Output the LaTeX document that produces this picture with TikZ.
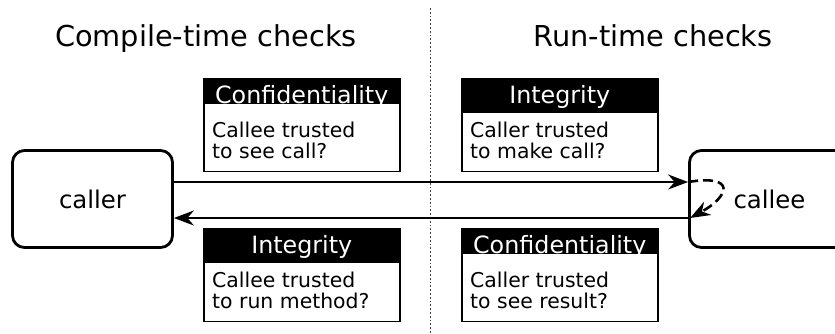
\documentclass[tikz,border=0pt]{standalone}
\usepackage{fontspec}
\setmainfont{DejaVu Sans}
\usetikzlibrary{arrows.meta}
\tikzset{
  ckparty/.style={draw, line width=2.8pt, rounded corners=12pt, minimum width=160pt, minimum height=97pt, font=\fontsize{24.4}{28}\selectfont},
  ckcall/.style={-{Stealth[length=20pt, width=15pt]}, line width=2.2pt},
  ckloop/.style={ckcall, dash pattern=on 10pt off 5pt, line width=2.6pt},
  ckframe/.style={draw, line width=1.5pt, minimum width=196pt, minimum height=92.5pt, anchor=north west, inner sep=0pt},
  ckhead/.style={fill=black, text=white, anchor=north, minimum width=197pt, inner xsep=0pt, inner ysep=0pt, text height=25pt, text depth=#1, font=\fontsize{23.8}{26}\selectfont},
  cktext/.style={anchor=base west, align=left, inner sep=0pt, font=\fontsize{20.4}{21}\selectfont},
  cktitle/.style={anchor=base, font=\fontsize{28.8}{32}\selectfont},
}
\newcommand{\ckcheck}[6]{%
  \node[ckframe] (#1) at (#2,#3) {};
  \node[ckhead=#5] (#1h) at (#1.north) {#4};
  \node[cktext] (#1t) at ([xshift=9pt, yshift=-80pt]#1.north west) {#6};}

\begin{document}
\begin{tikzpicture}[x=1pt, y=-1pt]
  \useasboundingbox (0,0) rectangle (835,333);
  \node[cktitle] (ctime) at (206,46) {Compile-time checks};
  \node[cktitle] (rtime) at (653,46) {Run-time checks};
  \draw[gray!50!black, dash pattern=on 1.8pt off 2pt, line width=1.8pt] (430.5,8) -- (430.5,333);

  \node[ckparty] (caller) at (92.5,199) {caller};
  \node[ckparty] (callee) at (769.5,199) {callee};
  \draw[ckcall] ([yshift=17pt]caller.east) -- ([yshift=17pt]callee.west);
  \draw[ckcall] ([yshift=-19pt]callee.west) -- ([yshift=-19pt]caller.east);
  \draw[ckloop] ([yshift=17pt]callee.west) .. controls +(48,-8) and +(40,-22) .. ([shift={(2pt,-19pt)}]callee.west);

  \ckcheck{conf1}{203}{78}{Confidentiality}{1pt}{Callee trusted\\to see call?}
  \ckcheck{integ1}{461}{78}{Integrity}{10pt}{Caller trusted\\to make call?}
  \ckcheck{integ2}{203}{228}{Integrity}{10pt}{Callee trusted\\to run method?}
  \ckcheck{conf2}{461}{228}{Confidentiality}{1pt}{Caller trusted\\to see result?}
\end{tikzpicture}
\end{document}
